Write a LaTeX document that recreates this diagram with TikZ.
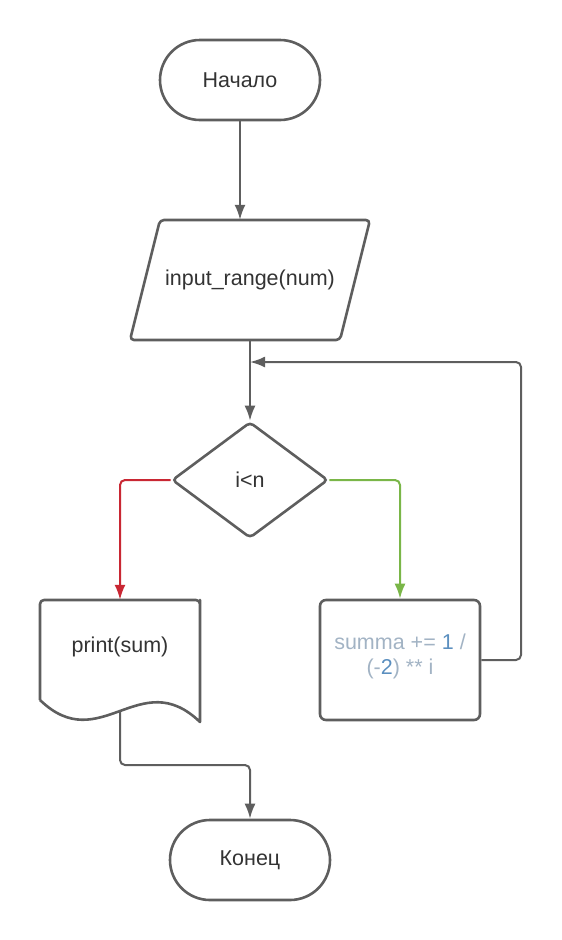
\documentclass[tikz,border=0pt]{standalone}
\usepackage{fontspec}
\setmainfont{Liberation Sans}
\usetikzlibrary{shapes.geometric,arrows.meta,calc}
\definecolor{strk}{HTML}{5E5E5E}
\definecolor{txt}{HTML}{333333}
\definecolor{redln}{HTML}{C92733}
\definecolor{greenln}{HTML}{7AB648}
\definecolor{codegrey}{HTML}{A2B3C4}
\definecolor{codeblue}{HTML}{5B8FBF}
\tikzset{
  base/.style={draw=strk, line width=2.6pt, text=txt, font=\fontsize{21.5}{25}\selectfont, inner sep=0pt},
  term/.style={base, rectangle, minimum width=160pt, minimum height=80pt, rounded corners=40pt},
  decbox/.style={base, diamond, minimum width=156pt, minimum height=116pt, aspect=1.345, rounded corners=4pt},
  procbox/.style={base, rectangle, minimum width=160pt, minimum height=120pt, rounded corners=6pt, align=center},
  holder/.style={rectangle, inner sep=0pt, text=txt, font=\fontsize{21.5}{25}\selectfont},
  outline/.style={draw=strk, line width=2.6pt, line join=round},
  conn/.style={draw=strk, line width=2pt, rounded corners=5pt, -{Latex[length=15pt,width=11pt]}},
}
\begin{document}
\begin{tikzpicture}[x=1pt,y=-1pt]
\useasboundingbox (0,0) rectangle (562,940);
\node[term] (start) at (240,80) {Начало};
% input parallelogram
\node[holder, minimum width=240pt, minimum height=120pt] (io) at (250,280) {input\_range(num)};
\draw[outline, rounded corners=4pt] (130,340) -- (160,220) -- (370,220) -- (340,340) -- cycle;
\node[decbox] (dec) at (250,480) {i<n};
\node[procbox] (proc) at (400,660) {};
\node[holder, align=center] (proctext) at (400,656) {\textcolor{codegrey}{summa +=}\ \textcolor{codeblue}{1}\ \textcolor{codegrey}{/}\\\textcolor{codegrey}{(-}\textcolor{codeblue}{2}\textcolor{codegrey}{)}\ \textcolor{codegrey}{**}\ \textcolor{codegrey}{i}};
% document shape
\node[holder, minimum width=160pt, minimum height=120pt] (doc) at (120,660) {};
\node[holder] (doctext) at (120,647) {print(sum)};
\draw[outline]
  (40,700) -- (40,604) [rounded corners=4pt] -- (40,600) -- (200,600) -- (200,604) [sharp corners] -- (200,722)
  .. controls (140,664) and (100,758) .. (40,700);
\node[term] (end) at (250,860) {Конец};
\coordinate (join) at (250,362);
\coordinate (docout) at (120,711);
\draw[conn] (start.south) -- (start.south |- io.north);
\draw[conn] (dec.north |- io.south) -- (dec.north);
\draw[conn] (proc.east) -- (521,660) |- (join);
\draw[conn, color=redln] (dec.west) -| (doc.north);
\draw[conn, color=greenln] (dec.east) -| (proc.north);
\draw[conn] (docout) -- (120,765) -| (end.north);
\end{tikzpicture}
\end{document}
